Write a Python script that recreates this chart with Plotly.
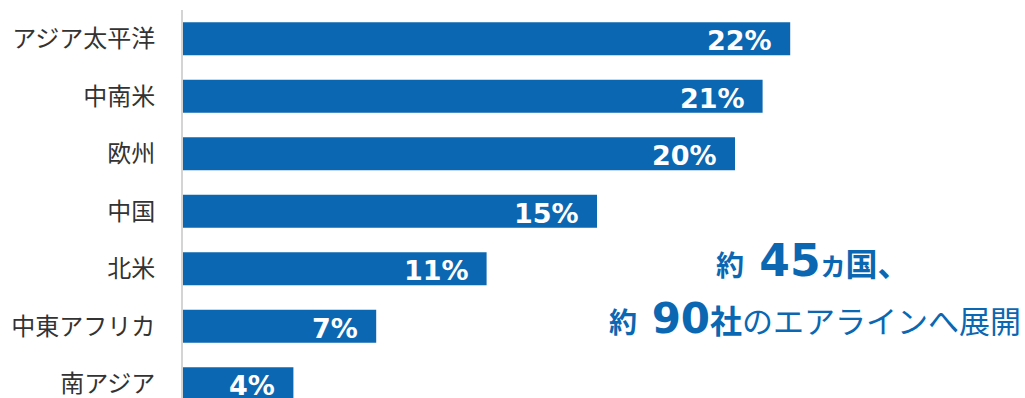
import plotly.graph_objects as go

categories = ["アジア太平洋", "中南米", "欧州", "中国", "北米", "中東アフリカ", "南アジア"]
shares = [22, 21, 20, 15, 11, 7, 4]
share_labels = ["22%", "21%", "20%", "15%", "11%", "7%", "4%"]

BLUE = "#0B67B1"
JP = "Noto Sans CJK JP"

fig = go.Figure()
fig.add_trace(go.Bar(
    x=shares, y=categories, orientation="h",
    marker=dict(color=BLUE, line=dict(width=0)),
    hoverinfo="skip",
))

for cat, val, lab in zip(categories, shares, share_labels):
    fig.add_annotation(
        x=val, y=cat, xref="x", yref="y", text="<b>" + lab + "</b>",
        showarrow=False, xanchor="right", yanchor="middle", xshift=-16, yshift=-2,
        font=dict(family="DejaVu Sans", size=27, color="white"),
    )

line1 = ('<b><span style="font-size:28px">約</span>'
         '<span style="font-size:44px;font-family:DejaVu Sans"> 45</span>'
         '<span style="font-size:25px">カ</span>'
         '<span style="font-size:32px">国、</span></b>')
line2 = ('<b><span style="font-size:28px">約</span>'
         '<span style="font-size:42px;font-family:DejaVu Sans"> 90</span>'
         '<span style="font-size:32px">社</span></b>'
         '<span style="font-size:31px">のエアラインへ展開</span>')

fig.add_annotation(x=813, y=260, xref="paper", yref="paper", text=line1,
                   showarrow=False, xanchor="center", yanchor="middle",
                   font=dict(family=JP, size=31, color=BLUE))
fig.add_annotation(x=815, y=318, xref="paper", yref="paper", text=line2,
                   showarrow=False, xanchor="center", yanchor="middle",
                   font=dict(family=JP, size=31, color=BLUE))

W, H = 1025, 398
L, T = 183, 10
plot_w = W - L
plot_h = H - T
px_per_unit = 27.6
band = 57.5

# convert pixel positions of side text to paper coords
for ann in fig.layout.annotations[-2:]:
    px, py = ann.x, ann.y
    ann.x = (px - L) / plot_w
    ann.y = 1 - (py - T) / plot_h

n_vis = plot_h / band
fig.update_layout(
    width=W, height=H,
    margin=dict(l=L, r=0, t=T, b=0, pad=0),
    paper_bgcolor="white", plot_bgcolor="white",
    showlegend=False,
    bargap=0.426,
    xaxis=dict(range=[0, plot_w / px_per_unit], visible=False, fixedrange=True),
    yaxis=dict(
        type="category", categoryorder="array", categoryarray=categories,
        range=[-0.5 + n_vis, -0.5],
        showline=True, linecolor="#D4D4D4", linewidth=2,
        showgrid=False, zeroline=False, ticks="",
        ticklabelstandoff=21,
        tickfont=dict(family=JP, size=24, color="#333333"),
    ),
)

fig.write_html("out.html")
